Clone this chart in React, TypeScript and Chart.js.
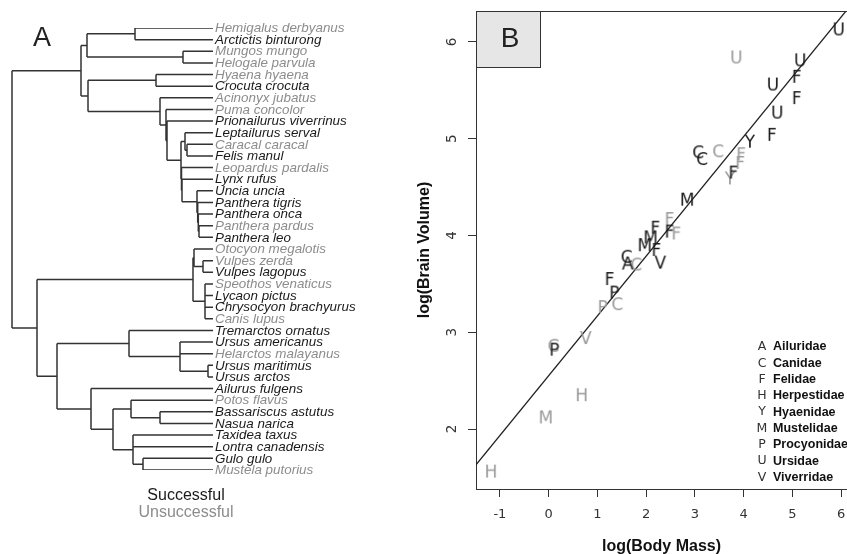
import { useEffect, useRef } from "react";
import { Chart, registerables } from "chart.js";

Chart.register(...registerables);

const SANS = '"Liberation Sans", Arial, sans-serif';
const DEJAVU = '"DejaVu Sans", sans-serif';

// ---------- Panel A : phylogeny ----------
const tipNames = [
  "Hemigalus derbyanus", "Arctictis binturong", "Mungos mungo", "Helogale parvula",
  "Hyaena hyaena", "Crocuta crocuta", "Acinonyx jubatus", "Puma concolor",
  "Prionailurus viverrinus", "Leptailurus serval", "Caracal caracal", "Felis manul",
  "Leopardus pardalis", "Lynx rufus", "Uncia uncia", "Panthera tigris", "Panthera onca",
  "Panthera pardus", "Panthera leo", "Otocyon megalotis", "Vulpes zerda", "Vulpes lagopus",
  "Speothos venaticus", "Lycaon pictus", "Chrysocyon brachyurus", "Canis lupus",
  "Tremarctos ornatus", "Ursus americanus", "Helarctos malayanus", "Ursus maritimus",
  "Ursus arctos", "Ailurus fulgens", "Potos flavus", "Bassariscus astutus", "Nasua narica",
  "Taxidea taxus", "Lontra canadensis", "Gulo gulo", "Mustela putorius",
];
// 1 = successful (black), 0 = unsuccessful (grey)
const tipSuccess = [
  0, 1, 0, 0, 0, 1, 0, 0, 1, 1, 0, 1, 0, 1, 1, 1, 1, 0, 1,
  0, 0, 1, 0, 1, 1, 0, 1, 1, 0, 1, 1, 1, 0, 1, 1, 1, 1, 1, 0,
];
const tipParent = [
  3, 3, 4, 4, 6, 6, 7, 8, 9, 11, 12, 12, 13, 14, 15, 16, 17, 18, 18,
  21, 22, 22, 23, 23, 23, 23, 25, 26, 26, 27, 27, 28, 30, 31, 31, 32, 32, 33, 33,
];
const tipDepth = 213;
const nodeDepth = [
  12, 81, 87, 135, 183, 88, 156, 160, 166, 167, 181, 185, 187, 181.5, 182, 197, 197.7,
  198.3, 199, 37, 193, 194, 203, 205, 57, 129, 180, 208, 91, 113, 131, 160, 133, 143,
];
const nodeParent = [
  -1, 0, 1, 2, 2, 1, 5, 5, 7, 8, 9, 10, 11, 10, 13, 14, 15,
  16, 17, 0, 19, 20, 21, 20, 19, 24, 25, 26, 24, 28, 29, 30, 29, 32,
];

// ---------- Panel B : brain vs body ----------
const pointFamily = [
  "H", "M", "H", "C", "P", "V", "P", "C", "P", "F", "C", "A", "C", "M", "M", "F", "F", "V", "F",
  "F", "F", "M", "C", "C", "C", "Y", "F", "F", "F", "Y", "F", "U", "U", "F", "F", "U", "U", "U",
];
const pointSuccess = [
  0, 0, 0, 0, 1, 0, 0, 0, 1, 1, 1, 1, 0, 1, 1, 1, 1, 1, 1,
  0, 0, 1, 1, 1, 0, 0, 1, 0, 0, 1, 1, 1, 1, 1, 1, 1, 0, 1,
];
const bodyMass = [
  -1.18, -0.06, 0.68, 0.1, 0.12, 0.76, 1.11, 1.41, 1.35, 1.25, 1.6, 1.62, 1.8, 1.97, 2.09, 2.21, 2.19, 2.29, 2.48,
  2.48, 2.62, 2.84, 3.07, 3.15, 3.48, 3.72, 3.79, 3.93, 3.95, 4.13, 4.58, 4.69, 4.6, 5.09, 5.09, 5.16, 3.85, 5.95,
];
const brainVolume = [
  1.56, 2.12, 2.35, 2.86, 2.82, 2.94, 3.26, 3.29, 3.41, 3.55, 3.78, 3.71, 3.7, 3.9, 3.98, 3.85, 4.08, 3.72, 4.04,
  4.17, 4.02, 4.37, 4.86, 4.79, 4.87, 4.59, 4.65, 4.75, 4.84, 4.97, 5.04, 5.27, 5.56, 5.42, 5.64, 5.81, 5.84, 6.13,
];
const familyCodes = ["A", "C", "F", "H", "Y", "M", "P", "U", "V"];
const familyNames = [
  "Ailuridae", "Canidae", "Felidae", "Herpestidae", "Hyaenidae",
  "Mustelidae", "Procyonidae", "Ursidae", "Viverridae",
];
const xTicks = [-1, 0, 1, 2, 3, 4, 5, 6];
const yTicks = [2, 3, 4, 5, 6];
const xRange = [-1.49, 6.12];
const yRange = [1.38, 6.32];
const fitIntercept = 2.55;
const fitSlope = 0.618;

const BLACK = "#1a1a1a";
const GREY = "#9a9a9a";
const TREE_GREY = "#8c8c8c";

function buildTree() {
  const n = nodeDepth.length;
  const lo = new Array(n).fill(Infinity);
  const hi = new Array(n).fill(-Infinity);
  const ny = new Array(n).fill(0);
  tipParent.forEach((p, i) => {
    lo[p] = Math.min(lo[p], i);
    hi[p] = Math.max(hi[p], i);
  });
  for (let k = n - 1; k >= 0; k--) {
    ny[k] = (lo[k] + hi[k]) / 2;
    const p = nodeParent[k];
    if (p >= 0) {
      lo[p] = Math.min(lo[p], ny[k]);
      hi[p] = Math.max(hi[p], ny[k]);
    }
  }
  const segs: any[] = [];
  const gap = { x: null, y: null };
  tipParent.forEach((p, i) => {
    segs.push({ x: nodeDepth[p], y: i }, { x: tipDepth, y: i }, gap);
  });
  nodeDepth.forEach((d, k) => {
    const p = nodeParent[k];
    if (p >= 0) segs.push({ x: nodeDepth[p], y: ny[k] }, { x: d, y: ny[k] }, gap);
    segs.push({ x: d, y: lo[k] }, { x: d, y: hi[k] }, gap);
  });
  return segs;
}

function letterImage(ch: string, color: string) {
  const c = document.createElement("canvas");
  c.width = 26;
  c.height = 26;
  const ctx = c.getContext("2d")!;
  ctx.font = `17px ${DEJAVU}`;
  ctx.fillStyle = color;
  ctx.textAlign = "center";
  ctx.textBaseline = "alphabetic";
  ctx.fillText(ch, 13, 13 + 6.2);
  return c;
}

const treeLabels = {
  id: "treeLabels",
  afterDatasetsDraw(chart: any) {
    const { ctx, scales } = chart;
    ctx.save();
    ctx.font = `italic 13.4px ${SANS}`;
    ctx.textBaseline = "middle";
    ctx.textAlign = "left";
    tipNames.forEach((name, i) => {
      ctx.fillStyle = tipSuccess[i] ? BLACK : TREE_GREY;
      ctx.fillText(name, scales.x.getPixelForValue(tipDepth) + 2, scales.y.getPixelForValue(i) + 0.5);
    });
    // panel letter
    ctx.fillStyle = "#222";
    ctx.font = `27px ${SANS}`;
    ctx.textAlign = "center";
    ctx.fillText("A", 42, 39);
    // key
    ctx.font = `16px ${SANS}`;
    ctx.fillStyle = BLACK;
    ctx.fillText("Successful", 186, 496);
    ctx.fillStyle = TREE_GREY;
    ctx.fillText("Unsuccessful", 186, 513);
    ctx.restore();
  },
};

const frameB = {
  id: "frameB",
  afterDatasetsDraw(chart: any) {
    const { ctx, chartArea } = chart;
    const { left, top, right } = chartArea;
    ctx.save();
    ctx.strokeStyle = "#333";
    ctx.lineWidth = 1;
    ctx.beginPath();
    ctx.moveTo(left, top + 0.5);
    ctx.lineTo(right + 2, top + 0.5);
    ctx.stroke();
    // panel label box
    ctx.fillStyle = "#e6e6e6";
    ctx.fillRect(left + 0.5, top + 0.5, 64, 56);
    ctx.strokeRect(left + 0.5, top + 0.5, 64, 56);
    ctx.fillStyle = "#222";
    ctx.font = `28px ${SANS}`;
    ctx.textAlign = "center";
    ctx.textBaseline = "middle";
    ctx.fillText("B", left + 34, top + 28);
    // legend
    familyCodes.forEach((code, i) => {
      const y = 347 + i * 16.3;
      ctx.textAlign = "center";
      ctx.fillStyle = "#333";
      ctx.font = `12.5px ${DEJAVU}`;
      ctx.fillText(code, 362, y);
      ctx.textAlign = "left";
      ctx.fillStyle = "#111";
      ctx.font = `bold 12.5px ${SANS}`;
      ctx.fillText(familyNames[i], 373, y);
    });
    ctx.restore();
  },
};

export default function App() {
  const refA = useRef<HTMLCanvasElement>(null);
  const refB = useRef<HTMLCanvasElement>(null);

  useEffect(() => {
    const chartA = new Chart(refA.current!, {
      type: "scatter",
      data: {
        datasets: [
          {
            data: buildTree(),
            showLine: true,
            spanGaps: false,
            borderColor: "#333",
            borderWidth: 1.5,
            pointRadius: 0,
          } as any,
        ],
      },
      options: {
        animation: false,
        responsive: false,
        maintainAspectRatio: false,
        layout: { autoPadding: false, padding: { top: 28, bottom: 84, left: 0, right: 0 } },
        plugins: { legend: { display: false }, tooltip: { enabled: false } },
        scales: {
          x: { type: "linear", min: 0, max: 400, display: false },
          y: { type: "linear", min: 0, max: tipNames.length - 1, reverse: true, display: false },
        },
      } as any,
      plugins: [treeLabels],
    });

    const groups: any[] = [];
    [1, 0].forEach((s) => {
      familyCodes.forEach((code) => {
        const data: any[] = [];
        pointFamily.forEach((f, i) => {
          if (f === code && pointSuccess[i] === s) data.push({ x: bodyMass[i], y: brainVolume[i] });
        });
        if (data.length)
          groups.push({
            data,
            pointStyle: letterImage(code, s ? BLACK : GREY),
            pointRadius: 8,
            showLine: false,
          });
      });
    });

    const chartB = new Chart(refB.current!, {
      type: "scatter",
      data: {
        datasets: [
          ...groups,
          {
            data: xRange.map((x) => ({ x, y: fitIntercept + fitSlope * x })),
            showLine: true,
            borderColor: "#222",
            borderWidth: 1.3,
            pointRadius: 0,
          },
        ],
      },
      options: {
        animation: false,
        responsive: false,
        maintainAspectRatio: false,
        layout: { autoPadding: false, padding: { top: 11, right: 0, left: 0, bottom: 0 } },
        plugins: { legend: { display: false }, tooltip: { enabled: false } },
        scales: {
          x: {
            type: "linear",
            min: xRange[0],
            max: xRange[1],
            afterBuildTicks: (s: any) => {
              s.ticks = xTicks.map((v) => ({ value: v }));
            },
            afterFit: (s: any) => {
              s.height = 65;
              s.paddingLeft = 0;
              s.paddingRight = 0;
            },
            grid: { drawOnChartArea: false, drawTicks: true, tickLength: 8, tickColor: "#333", color: "#333" },
            border: { display: true, color: "#333", width: 1 },
            ticks: { font: { family: DEJAVU, size: 13 }, color: "#333", padding: 10, maxRotation: 0, autoSkip: false },
            title: {
              display: true,
              text: "log(Body Mass)",
              font: { family: SANS, size: 16, weight: "bold" },
              color: "#111",
              padding: { top: 0, bottom: -2.6 },
            },
          },
          y: {
            type: "linear",
            min: yRange[0],
            max: yRange[1],
            afterBuildTicks: (s: any) => {
              s.ticks = yTicks.map((v) => ({ value: v }));
            },
            afterFit: (s: any) => {
              s.width = 76;
              s.paddingTop = 0;
              s.paddingBottom = 0;
            },
            grid: { drawOnChartArea: false, drawTicks: true, tickLength: 8, tickColor: "#333", color: "#333" },
            border: { display: true, color: "#333", width: 1 },
            ticks: {
              font: { family: DEJAVU, size: 13.5 },
              color: "#333",
              padding: 11,
              minRotation: 90,
              maxRotation: 90,
              crossAlign: "center",
              autoSkip: false,
            },
            title: {
              display: true,
              text: "log(Brain Volume)",
              font: { family: SANS, size: 16, weight: "bold" },
              color: "#111",
              padding: { top: 14.5, bottom: 0 },
            },
          },
        },
      } as any,
      plugins: [frameB],
    });

    return () => {
      chartA.destroy();
      chartB.destroy();
    };
  }, []);

  return (
    <div style={{ position: "absolute", left: 0, top: 0, width: 847, height: 554, background: "#fff", overflow: "hidden" }}>
      <canvas ref={refA} width={400} height={554} style={{ position: "absolute", left: 0, top: 0, width: 400, height: 554 }} />
      <canvas ref={refB} width={447} height={554} style={{ position: "absolute", left: 400, top: 0, width: 447, height: 554 }} />
    </div>
  );
}
